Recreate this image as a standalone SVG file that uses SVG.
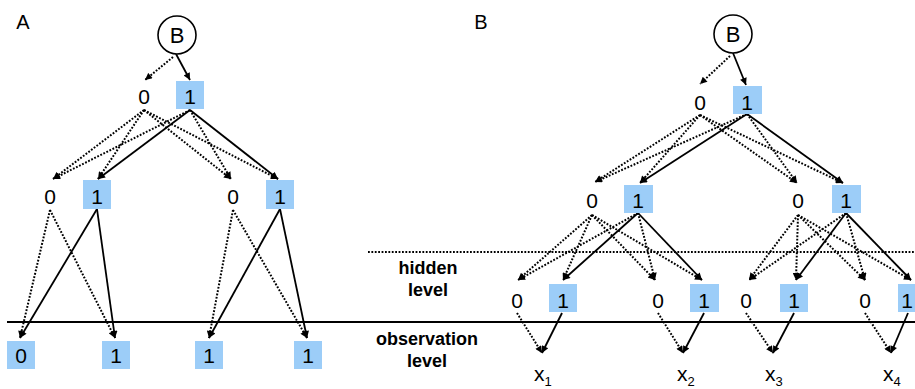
<svg xmlns="http://www.w3.org/2000/svg" width="915" height="389" viewBox="0 0 915 389">
  <defs>
    <marker id="arrow" viewBox="0 0 10 10" refX="10" refY="5" markerWidth="9" markerHeight="7" markerUnits="userSpaceOnUse" orient="auto">
      <path d="M0,0 L10,5 L0,10 z" fill="#000"/>
    </marker>
    <style>
      .sol { stroke: #000; stroke-width: 1.8; fill: none; marker-end: url(#arrow); }
      .dot { stroke: #000; stroke-width: 2; fill: none; stroke-dasharray: 1.8 1.6; marker-end: url(#arrow); }
      .rule { stroke: #000; stroke-width: 1.8; fill: none; }
      .rule-dot { stroke: #000; stroke-width: 2; fill: none; stroke-dasharray: 1.8 1.6; }
      .box { fill: #9ccdf8; }
      .num { font-family: "Liberation Sans", Arial, sans-serif; font-size: 21px; fill: #000; text-anchor: middle; }
      .var { font-family: "Liberation Sans", Arial, sans-serif; font-size: 21px; fill: #000; }
      .lbl { font-family: "Liberation Sans", Arial, sans-serif; font-size: 20px; fill: #000; text-anchor: middle; }
      .lvl { font-family: "Liberation Sans", Arial, sans-serif; font-size: 18px; font-weight: bold; fill: #000; text-anchor: middle; }
      .circ { fill: #fff; stroke: #000; stroke-width: 1.6; }
    </style>
  </defs>

  <!-- panel labels -->
  <text class="lbl" x="23" y="29">A</text>
  <text class="lbl" x="481" y="29">B</text>

  <!-- level separators -->
  <line class="rule" x1="7" y1="322" x2="915" y2="322"/>
  <line class="rule-dot" x1="368" y1="252" x2="915" y2="252"/>

  <g id="level-labels">
    <text class="lvl" x="428" y="274">hidden</text>
    <text class="lvl" x="428" y="296">level</text>
    <text class="lvl" x="427" y="345">observation</text>
    <text class="lvl" x="427" y="367">level</text>
  </g>

  <!-- connectors -->
  <g id="connectors">
    <!-- A: root -->
    <line class="dot" x1="173" y1="57" x2="145" y2="80"/>
    <line class="sol" x1="176" y1="54" x2="190" y2="80"/>
    <!-- A: level 1 to level 2 -->
    <line class="dot" x1="144" y1="110" x2="53" y2="179"/>
    <line class="dot" x1="144" y1="110" x2="98" y2="179"/>
    <line class="dot" x1="144" y1="110" x2="231" y2="179"/>
    <line class="dot" x1="144" y1="110" x2="278" y2="179"/>
    <line class="dot" x1="190" y1="110" x2="53" y2="179"/>
    <line class="sol" x1="190" y1="110" x2="98" y2="179"/>
    <line class="dot" x1="190" y1="110" x2="231" y2="179"/>
    <line class="sol" x1="190" y1="110" x2="278" y2="179"/>
    <!-- A: level 2 to observations -->
    <line class="dot" x1="50" y1="210" x2="20" y2="338"/>
    <line class="dot" x1="50" y1="210" x2="115" y2="338"/>
    <line class="sol" x1="97" y1="209" x2="20" y2="338"/>
    <line class="sol" x1="97" y1="209" x2="115" y2="338"/>
    <line class="dot" x1="233" y1="210" x2="209" y2="338"/>
    <line class="dot" x1="233" y1="210" x2="307" y2="338"/>
    <line class="sol" x1="280" y1="209" x2="209" y2="338"/>
    <line class="sol" x1="280" y1="209" x2="307" y2="338"/>

    <!-- B: root -->
    <line class="dot" x1="730" y1="56" x2="700" y2="84"/>
    <line class="sol" x1="733" y1="53" x2="746" y2="85"/>
    <!-- B: level 1 to level 2 -->
    <line class="dot" x1="700" y1="115" x2="595" y2="182"/>
    <line class="dot" x1="700" y1="115" x2="640" y2="183"/>
    <line class="dot" x1="700" y1="115" x2="797" y2="183"/>
    <line class="dot" x1="700" y1="115" x2="843" y2="183"/>
    <line class="dot" x1="747" y1="114" x2="595" y2="182"/>
    <line class="sol" x1="747" y1="114" x2="640" y2="183"/>
    <line class="dot" x1="747" y1="114" x2="797" y2="183"/>
    <line class="sol" x1="747" y1="114" x2="843" y2="183"/>
    <!-- B: level 2 to level 3, left pair -->
    <line class="dot" x1="592" y1="215" x2="518" y2="280"/>
    <line class="dot" x1="592" y1="215" x2="563" y2="280"/>
    <line class="dot" x1="592" y1="215" x2="655" y2="280"/>
    <line class="dot" x1="592" y1="215" x2="702" y2="280"/>
    <line class="dot" x1="638" y1="213" x2="518" y2="280"/>
    <line class="sol" x1="638" y1="213" x2="563" y2="280"/>
    <line class="dot" x1="638" y1="213" x2="655" y2="280"/>
    <line class="sol" x1="638" y1="213" x2="702" y2="280"/>
    <!-- B: level 2 to level 3, right pair -->
    <line class="dot" x1="798" y1="215" x2="749" y2="280"/>
    <line class="dot" x1="798" y1="215" x2="796" y2="280"/>
    <line class="dot" x1="798" y1="215" x2="865" y2="280"/>
    <line class="dot" x1="798" y1="215" x2="911" y2="280"/>
    <line class="dot" x1="846" y1="213" x2="749" y2="280"/>
    <line class="sol" x1="846" y1="213" x2="796" y2="280"/>
    <line class="dot" x1="846" y1="213" x2="865" y2="280"/>
    <line class="sol" x1="846" y1="213" x2="911" y2="280"/>
    <!-- B: hidden level to observations -->
    <line class="dot" x1="517" y1="313" x2="542" y2="353"/>
    <line class="sol" x1="562" y1="313" x2="542" y2="353"/>
    <line class="dot" x1="658" y1="313" x2="683" y2="353"/>
    <line class="sol" x1="704" y1="313" x2="683" y2="353"/>
    <line class="dot" x1="746" y1="313" x2="773" y2="353"/>
    <line class="sol" x1="794" y1="313" x2="773" y2="353"/>
    <line class="dot" x1="865" y1="313" x2="891" y2="353"/>
    <line class="sol" x1="908" y1="313" x2="891" y2="353"/>
  </g>

  <!-- ===== Panel A nodes ===== -->
  <g id="a-root">
    <circle class="circ" cx="177" cy="35" r="19"/>
    <text class="num" x="177" y="43" style="font-size:22px">B</text>
  </g>
  <g id="a-l1-0"><text class="num" x="144" y="104">0</text></g>
  <g id="a-l1-1"><rect class="box" x="176" y="81" width="28" height="28"/><text class="num" x="190" y="104">1</text></g>

  <g id="a-l2-0a"><text class="num" x="50" y="204">0</text></g>
  <g id="a-l2-1a"><rect class="box" x="83" y="180" width="28" height="29"/><text class="num" x="97" y="204">1</text></g>
  <g id="a-l2-0b"><text class="num" x="233" y="204">0</text></g>
  <g id="a-l2-1b"><rect class="box" x="266" y="180" width="28" height="29"/><text class="num" x="280" y="204">1</text></g>

  <g id="a-obs-1"><rect class="box" x="7" y="341" width="28" height="28"/><text class="num" x="21" y="363">0</text></g>
  <g id="a-obs-2"><rect class="box" x="102" y="341" width="28" height="28"/><text class="num" x="116" y="363">1</text></g>
  <g id="a-obs-3"><rect class="box" x="195" y="341" width="28" height="28"/><text class="num" x="209" y="363">1</text></g>
  <g id="a-obs-4"><rect class="box" x="294" y="341" width="28" height="28"/><text class="num" x="308" y="363">1</text></g>

  <!-- ===== Panel B nodes ===== -->
  <g id="b-root">
    <circle class="circ" cx="733" cy="34" r="19"/>
    <text class="num" x="733" y="42" style="font-size:22px">B</text>
  </g>
  <g id="b-l1-0"><text class="num" x="700" y="110">0</text></g>
  <g id="b-l1-1"><rect class="box" x="733" y="86" width="29" height="28"/><text class="num" x="747" y="110">1</text></g>

  <g id="b-l2-0a"><text class="num" x="592" y="208">0</text></g>
  <g id="b-l2-1a"><rect class="box" x="624" y="185" width="29" height="28"/><text class="num" x="638" y="208">1</text></g>
  <g id="b-l2-0b"><text class="num" x="798" y="208">0</text></g>
  <g id="b-l2-1b"><rect class="box" x="832" y="185" width="29" height="28"/><text class="num" x="846" y="208">1</text></g>

  <g id="b-l3-0a"><text class="num" x="517" y="308">0</text></g>
  <g id="b-l3-1a"><rect class="box" x="549" y="284" width="28" height="28"/><text class="num" x="563" y="308">1</text></g>
  <g id="b-l3-0b"><text class="num" x="658" y="308">0</text></g>
  <g id="b-l3-1b"><rect class="box" x="690" y="284" width="29" height="28"/><text class="num" x="704" y="308">1</text></g>
  <g id="b-l3-0c"><text class="num" x="746" y="308">0</text></g>
  <g id="b-l3-1c"><rect class="box" x="780" y="284" width="28" height="28"/><text class="num" x="794" y="308">1</text></g>
  <g id="b-l3-0d"><text class="num" x="865" y="308">0</text></g>
  <g id="b-l3-1d"><rect class="box" x="898" y="284" width="28" height="28"/><text class="num" x="907" y="308">1</text></g>

  <g id="b-obs-x1"><text class="var" x="534" y="381">x<tspan font-size="13" dy="5">1</tspan></text></g>
  <g id="b-obs-x2"><text class="var" x="677" y="381">x<tspan font-size="13" dy="5">2</tspan></text></g>
  <g id="b-obs-x3"><text class="var" x="765" y="381">x<tspan font-size="13" dy="5">3</tspan></text></g>
  <g id="b-obs-x4"><text class="var" x="883" y="381">x<tspan font-size="13" dy="5">4</tspan></text></g>
</svg>
